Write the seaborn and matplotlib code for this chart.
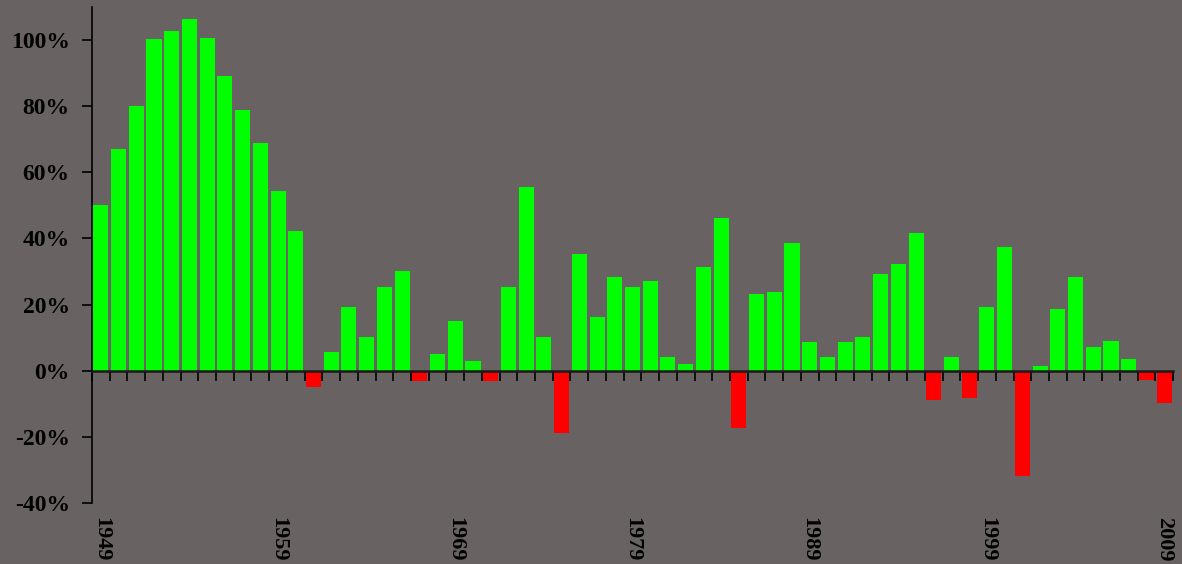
import matplotlib
matplotlib.use("Agg")
import matplotlib.pyplot as plt
import seaborn as sns
import numpy as np
import pandas as pd

years = list(range(1949, 2010))
values = [50, 67, 80, 100.3, 102.6, 106.3, 100.6, 89, 79, 68.9, 54.4, 42.3,
          -5, 5.7, 19.3, 10.3, 25.4, 30.2, -3, 5.1, 15, 3,
          -3, 25.4, 55.6, 10.3, -18.7, 35.3, 16.3, 28.4, 25.4, 27.2,
          4.2, 2.1, 31.4, 46.2, -17.2, 23.3, 23.9, 38.7, 8.8, 4.2,
          8.8, 10.3, 29.3, 32.3, 41.7, -8.8, 4.2, -8.2, 19.3, 37.5,
          -31.7, 1.5, 18.7, 28.4, 7.3, 9.1, 3.6, -2.7, -9.7]
label_years = [1949, 1959, 1969, 1979, 1989, 1999, 2009]
y_ticks = [-40, -20, 0, 20, 40, 60, 80, 100]
y_labels = ["-40%", "-20%", "0%", "20%", "40%", "60%", "80%", "100%"]

bg = "#686362"
sns.set_theme(style="white")
plt.rcParams["font.family"] = ["Liberation Serif", "DejaVu Serif"]

df = pd.DataFrame({"year": [str(y) for y in years], "value": values})
df["sign"] = np.where(df["value"] >= 0, "pos", "neg")

fig = plt.figure(figsize=(11.82, 5.64), dpi=100, facecolor=bg)
ax = fig.add_axes([92 / 1182, 1 - 503 / 564, (1173 - 92) / 1182, (503 - 7) / 564])
ax.set_facecolor(bg)

sns.barplot(data=df, x="year", y="value", hue="sign",
            palette={"pos": "#00ff00", "neg": "#ff0000"},
            dodge=False, width=0.85, legend=False, ax=ax, saturation=1,
            linewidth=0, edgecolor="none")

ax.set_xlim(-0.5, len(years) - 0.5)
ax.set_ylim(-40, 110)

for s in ["top", "right"]:
    ax.spines[s].set_visible(False)
ax.spines["left"].set_color("black")
ax.spines["left"].set_linewidth(1.2)
ax.spines["bottom"].set_position(("data", 0))
ax.spines["bottom"].set_color("#1a1a1a")
ax.spines["bottom"].set_linewidth(1.8)

ax.set_yticks(y_ticks)
ax.set_yticklabels(y_labels, fontweight="bold", fontsize=17, color="black")
ax.tick_params(axis="y", direction="out", length=7, width=1.2, color="black", pad=9, left=True)

idx = [years.index(y) for y in label_years]
ax.set_xticks(idx)
ax.set_xticklabels([str(y) for y in label_years], rotation=-90,
                   fontweight="bold", fontsize=16, color="black")
ax.set_xticks(np.arange(-0.5, len(years)), minor=True)
ax.tick_params(axis="x", which="major", length=0, pad=105, bottom=True)
ax.tick_params(axis="x", which="minor", direction="out", length=7, width=1.2,
               color="black", bottom=True)
ax.set_xlabel("")
ax.set_ylabel("")
ax.grid(False)

fig.savefig("out.png", dpi=100, facecolor=bg)
